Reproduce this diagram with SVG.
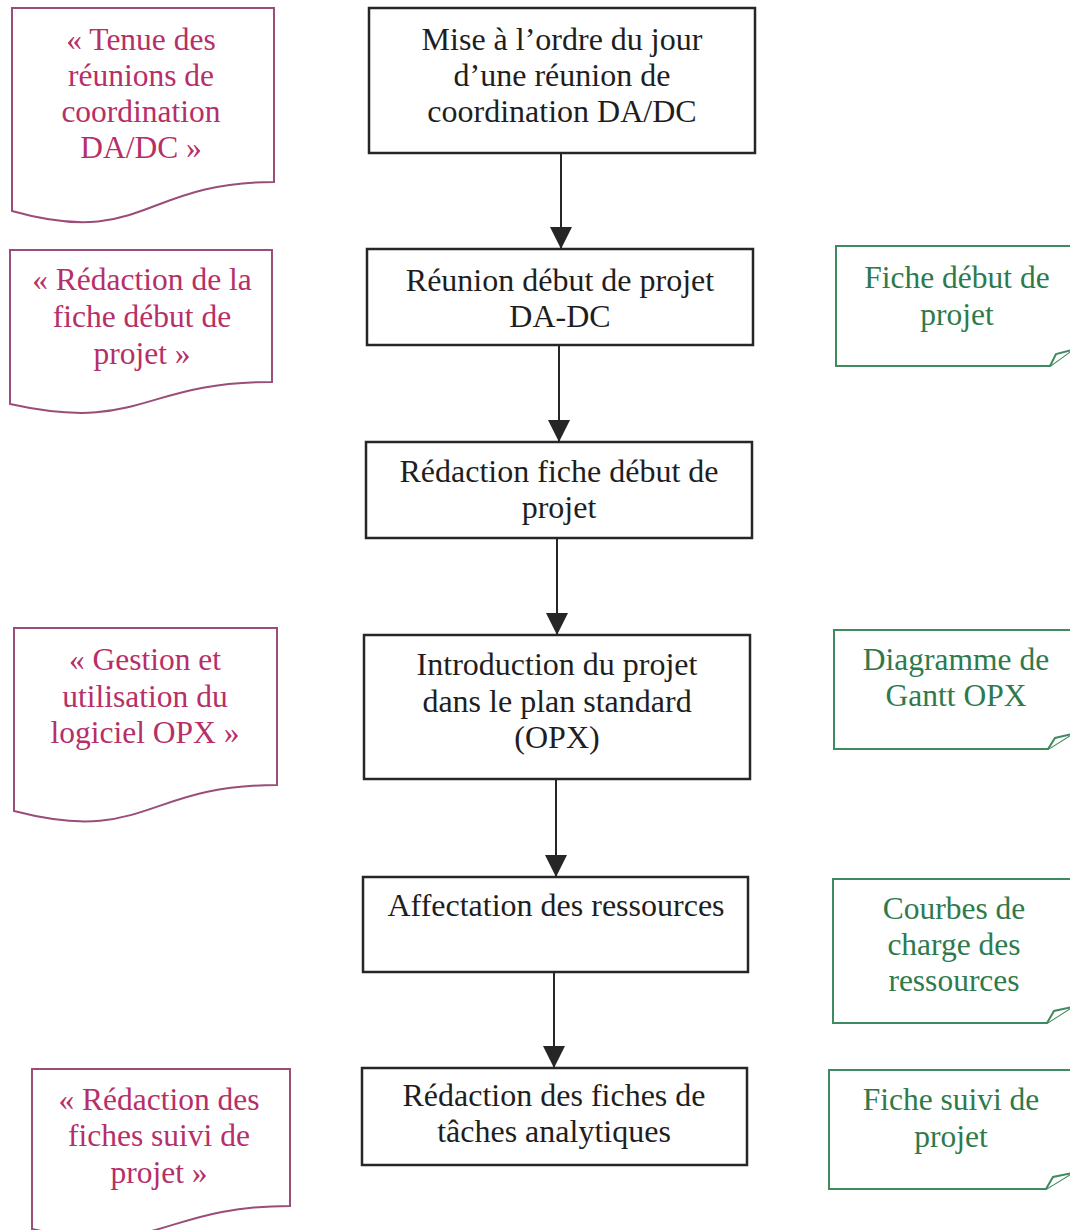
<svg xmlns="http://www.w3.org/2000/svg" width="1070" height="1230" viewBox="0 0 1070 1230">
<defs>
<style>
.box{fill:#fff;stroke:#262626;stroke-width:2.5}
.doc{fill:#fff;stroke:#9a4d78;stroke-width:2}
.note{fill:#fff;stroke:#3f8a5e;stroke-width:2}
.t{font-family:"Liberation Serif","Times New Roman",serif;text-anchor:middle}
.tb{font-size:32px;fill:#1e1e1e}
.tm{font-size:31.5px;fill:#b72f68}
.tg{font-size:31.5px;fill:#2e7a4c}
.edge{stroke:#262626;stroke-width:2;fill:none}
</style>
<marker id="arr" markerUnits="userSpaceOnUse" markerWidth="22" markerHeight="22" viewBox="0 0 20 20" refX="20" refY="10" orient="auto">
<path d="M0,0 L20,10 L0,20 Z" fill="#262626"/>
</marker>
</defs>
<rect width="1070" height="1230" fill="#fff"/>

<g id="connectors">
<line class="edge" x1="561" y1="153" x2="561" y2="249" marker-end="url(#arr)"/>
<line class="edge" x1="559" y1="345" x2="559" y2="442" marker-end="url(#arr)"/>
<line class="edge" x1="557" y1="538" x2="557" y2="635" marker-end="url(#arr)"/>
<line class="edge" x1="556" y1="779" x2="556" y2="877" marker-end="url(#arr)"/>
<line class="edge" x1="554" y1="972" x2="554" y2="1068" marker-end="url(#arr)"/>
</g>

<g id="box1">
<rect class="box" x="369" y="8" width="386" height="145"/>
<text class="t tb" x="562" y="50">Mise à l’ordre du jour</text>
<text class="t tb" x="562" y="86">d’une réunion de</text>
<text class="t tb" x="562" y="122">coordination DA/DC</text>
</g>
<g id="box2">
<rect class="box" x="367" y="249" width="386" height="96"/>
<text class="t tb" x="560" y="291">Réunion début de projet</text>
<text class="t tb" x="560" y="327">DA-DC</text>
</g>
<g id="box3">
<rect class="box" x="366" y="442" width="386" height="96"/>
<text class="t tb" x="559" y="482">Rédaction fiche début de</text>
<text class="t tb" x="559" y="518">projet</text>
</g>
<g id="box4">
<rect class="box" x="364" y="635" width="386" height="144"/>
<text class="t tb" x="557" y="675">Introduction du projet</text>
<text class="t tb" x="557" y="712">dans le plan standard</text>
<text class="t tb" x="557" y="748">(OPX)</text>
</g>
<g id="box5">
<rect class="box" x="363" y="877" width="385" height="95"/>
<text class="t tb" x="556" y="916">Affectation des ressources</text>
</g>
<g id="box6">
<rect class="box" x="362" y="1068" width="385" height="97"/>
<text class="t tb" x="554" y="1106">Rédaction des fiches de</text>
<text class="t tb" x="554" y="1142">tâches analytiques</text>
</g>

<g id="doc1">
<path class="doc" d="M12,8 H274 V182 C143,182 143,248 12,211 Z"/>
<text class="t tm" x="141" y="50">« Tenue des</text>
<text class="t tm" x="141" y="86">réunions de</text>
<text class="t tm" x="141" y="122">coordination</text>
<text class="t tm" x="141" y="158">DA/DC »</text>
</g>
<g id="doc2">
<path class="doc" d="M10,250 H272 V382 C141,382 141,433 10,404 Z"/>
<text class="t tm" x="142" y="290">« Rédaction de la</text>
<text class="t tm" x="142" y="327">fiche début de</text>
<text class="t tm" x="142" y="364">projet »</text>
</g>
<g id="doc3">
<path class="doc" d="M14,628 H277 V785 C145,785 145,845 14,811 Z"/>
<text class="t tm" x="145" y="670">« Gestion et</text>
<text class="t tm" x="145" y="707">utilisation du</text>
<text class="t tm" x="145" y="743">logiciel OPX »</text>
</g>
<g id="doc4">
<path class="doc" d="M32,1069 H290 V1206 C161,1206 161,1258 32,1229 Z"/>
<text class="t tm" x="159" y="1110">« Rédaction des</text>
<text class="t tm" x="159" y="1146">fiches suivi de</text>
<text class="t tm" x="159" y="1183">projet »</text>
</g>

<g id="note1">
<path class="note" d="M836,246 H1072 V350 L1050,366 H836 Z"/>
<path class="note" d="M1050,366 L1056,354 L1072,350"/>
<text class="t tg" x="957" y="288">Fiche début de</text>
<text class="t tg" x="957" y="325">projet</text>
</g>
<g id="note2">
<path class="note" d="M834,630 H1072 V734 L1048,749 H834 Z"/>
<path class="note" d="M1048,749 L1055,738 L1072,734"/>
<text class="t tg" x="956" y="670">Diagramme de</text>
<text class="t tg" x="956" y="706">Gantt OPX</text>
</g>
<g id="note3">
<path class="note" d="M833,879 H1072 V1007 L1047,1023 H833 Z"/>
<path class="note" d="M1047,1023 L1054,1011 L1072,1007"/>
<text class="t tg" x="954" y="919">Courbes de</text>
<text class="t tg" x="954" y="955">charge des</text>
<text class="t tg" x="954" y="991">ressources</text>
</g>
<g id="note4">
<path class="note" d="M829,1070 H1072 V1173 L1046,1189 H829 Z"/>
<path class="note" d="M1046,1189 L1053,1177 L1072,1173"/>
<text class="t tg" x="951" y="1110">Fiche suivi de</text>
<text class="t tg" x="951" y="1147">projet</text>
</g>
</svg>
